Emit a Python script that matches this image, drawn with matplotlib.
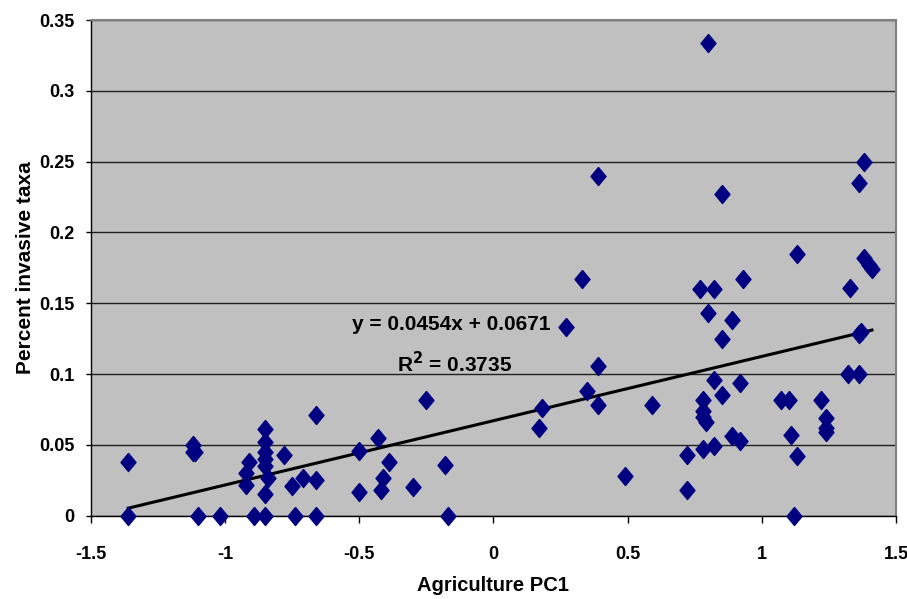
import matplotlib.pyplot as plt
import numpy as np

plt.rcParams['font.family'] = ['Liberation Sans', 'DejaVu Sans']
plt.rcParams['font.weight'] = 'bold'
plt.rcParams['axes.labelweight'] = 'bold'

# agriculture PC1 scores and share of invasive taxa
pc1 = [-1.36, -1.36, -1.12, -1.12, -1.11, -1.10, -1.02,
       -0.91, -0.92, -0.92, -0.89,
       -0.85, -0.85, -0.85, -0.85, -0.85, -0.84, -0.85, -0.85,
       -0.78, -0.75, -0.71, -0.74,
       -0.66, -0.66, -0.66, -0.50, -0.50,
       -0.43, -0.42, -0.41, -0.39, -0.30, -0.25, -0.18, -0.17,
       0.17, 0.18, 0.27, 0.33, 0.35, 0.39, 0.39, 0.39, 0.49, 0.59,
       0.72, 0.72, 0.77, 0.78, 0.78, 0.78, 0.79, 0.78,
       0.80, 0.80, 0.82, 0.82, 0.82, 0.85, 0.85, 0.85,
       0.89, 0.89, 0.92, 0.92, 0.93,
       1.07, 1.10, 1.11, 1.12, 1.13, 1.13,
       1.22, 1.24, 1.24, 1.24,
       1.32, 1.33, 1.36, 1.36, 1.38, 1.36, 1.37, 1.38, 1.40, 1.41]
invasive = [0.038, 0.0, 0.050, 0.045, 0.045, 0.0, 0.0,
            0.038, 0.030, 0.022, 0.0,
            0.061, 0.052, 0.045, 0.040, 0.035, 0.027, 0.015, 0.0,
            0.043, 0.021, 0.027, 0.0,
            0.071, 0.025, 0.0, 0.046, 0.017,
            0.055, 0.018, 0.027, 0.038, 0.020, 0.082, 0.036, 0.0,
            0.062, 0.076, 0.133, 0.167, 0.088, 0.240, 0.106, 0.078, 0.028, 0.078,
            0.043, 0.018, 0.160, 0.074, 0.082, 0.070, 0.066, 0.047,
            0.334, 0.143, 0.160, 0.096, 0.049, 0.227, 0.125, 0.085,
            0.138, 0.056, 0.094, 0.053, 0.167,
            0.082, 0.082, 0.057, 0.0, 0.185, 0.042,
            0.082, 0.069, 0.062, 0.059,
            0.100, 0.161, 0.100, 0.235, 0.250, 0.128, 0.130, 0.182, 0.177, 0.174]

slope = 0.0454
intercept = 0.0671
r2 = 0.3735

fig = plt.figure(figsize=(9.07, 5.99), dpi=100)
ax = fig.add_axes([0.100, 0.139, 0.888, 0.8275])
ax.set_facecolor('#C0C0C0')

diamond = [(0, 1), (0.83, 0), (0, -1), (-0.83, 0), (0, 1)]
ax.plot(pc1, invasive, linestyle='none', marker=diamond, markersize=13,
        color='#000080', markeredgecolor='#000080', zorder=3, clip_on=False)

# trend line drawn from the fitted equation over the data range
xs = np.array([min(pc1), max(pc1)])
ax.plot(xs, slope * xs + intercept, color='black', linewidth=2.2, zorder=2)

ax.text(0.211, 0.1347, 'y = %.4fx + %.4f' % (slope, intercept), ha='right',
        va='center', fontsize=15)
ax.text(-0.359, 0.1077, 'R$^2$ = %.4f' % r2, ha='left', va='center', fontsize=15)

ax.set_xlim(-1.5, 1.5)
ax.set_ylim(0, 0.35)
ax.set_xticks([-1.5, -1, -0.5, 0, 0.5, 1, 1.5])
ax.set_xticklabels(['-1.5', '-1', '-0.5', '0', '0.5', '1', '1.5'])
ax.set_yticks([0, 0.05, 0.1, 0.15, 0.2, 0.25, 0.3, 0.35])
ax.set_yticklabels(['0', '0.05', '0.1', '0.15', '0.2', '0.25', '0.3', '0.35'])
ax.yaxis.grid(True, color='#202020', linewidth=1)
ax.set_axisbelow(True)
ax.tick_params(axis='x', direction='out', length=5, width=1, labelsize=13, pad=17)
ax.tick_params(axis='y', direction='out', length=3.6, width=1, labelsize=13, pad=8)

for side in ['top', 'right']:
    ax.spines[side].set_color('#808080')
    ax.spines[side].set_linewidth(1.5)
for side in ['left', 'bottom']:
    ax.spines[side].set_color('black')
    ax.spines[side].set_linewidth(1)

ax.set_xlabel('Agriculture PC1', fontsize=14.5, labelpad=9)
ax.set_ylabel('Percent invasive taxa', fontsize=15, labelpad=3)

fig.savefig('out.png', dpi=100)
